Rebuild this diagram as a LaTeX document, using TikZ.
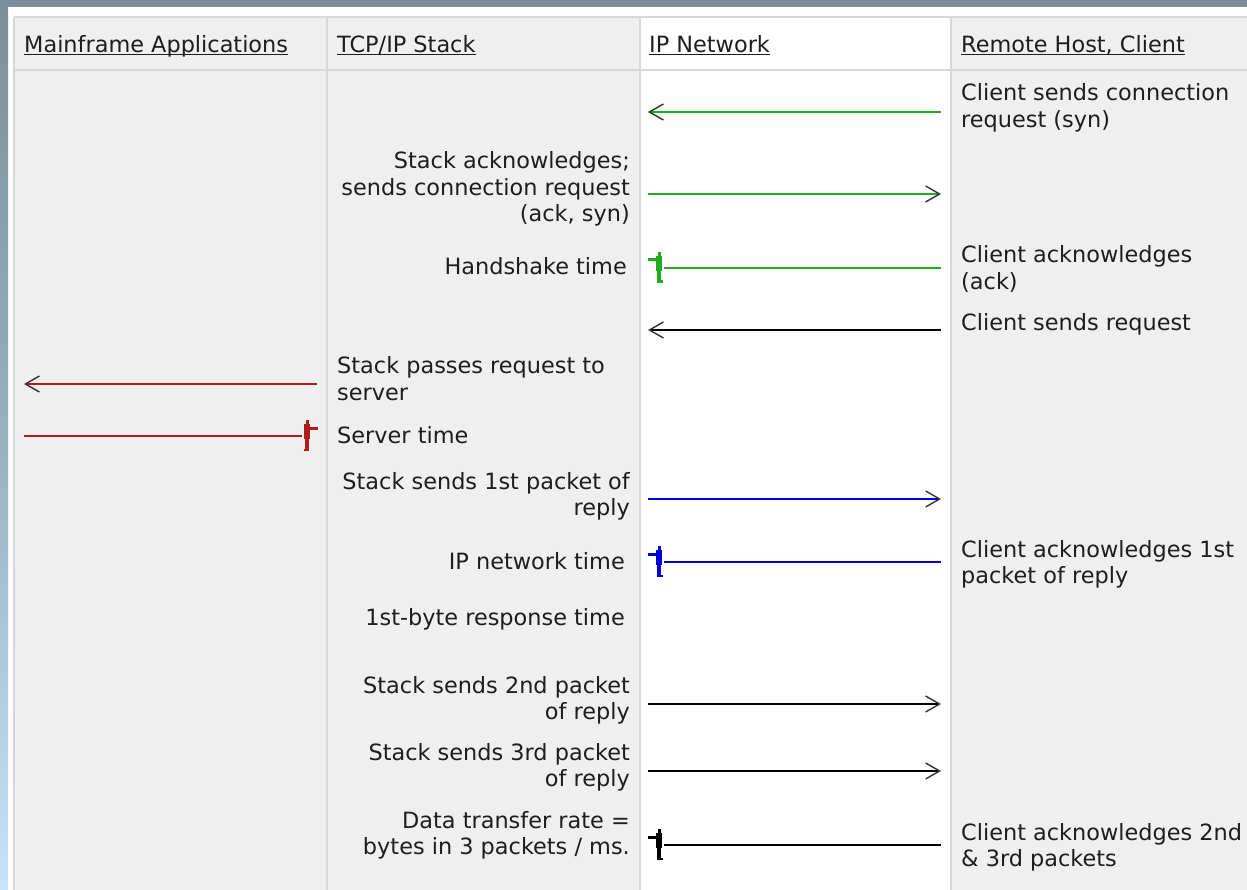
\documentclass[tikz,border=0pt]{standalone}
\usepackage{fontspec}
\setmainfont{DejaVu Sans}
\usetikzlibrary{arrows.meta}
\definecolor{frameGray}{HTML}{7A8F9B}
\definecolor{frameBlue}{HTML}{C6E4F8}
\definecolor{cellBg}{HTML}{EFEFEF}
\definecolor{gridLine}{HTML}{D8D8D8}
\definecolor{synGreen}{HTML}{1FAD1F}
\definecolor{netBlue}{HTML}{0000DD}
\definecolor{srvRed}{HTML}{B01C1C}
\definecolor{txtDark}{HTML}{1E1E1E}
\newcommand{\hdrtext}[1]{\underline{\smash{#1}}}
% time marker: #1 position, #2 colour, #3 horizontal direction
\newcommand{\timemark}[3]{%
  \begin{scope}[shift={(#1)}, xscale=#3]
    \fill[#2] (-1.5,-16) rectangle (1.5,-11.5);
    \fill[#2] (-11,-9.5) rectangle (1,-6.5);
    \fill[#2] (-3,-12) rectangle (3,3);
    \fill[#2] (-2,3) rectangle (2,15);
    \fill[#2] (-2,12.5) rectangle (3.5,15);
  \end{scope}}
\begin{document}
\begin{tikzpicture}[x=1pt,y=-1pt,
  txt/.style={inner sep=0pt, font=\fontsize{22.4}{26.6}\selectfont, text=txtDark},
  lefttxt/.style={txt, anchor=base west, align=left},
  righttxt/.style={txt, anchor=base east, align=right},
  flow/.style={line width=1.6pt, -{Straight Barb[length=14pt,width=16pt,line width=1.4pt,color=black!80]}},
  plainline/.style={line width=1.6pt},
  grid/.style={draw=gridLine, line width=2pt}
]
\useasboundingbox (0,0) rectangle (1247,890);
% frame
\fill[white] (0,0) rectangle (1247,890);
\shade[top color=frameGray, bottom color=frameBlue, middle color=frameGray!60!frameBlue] (0,0) rectangle (8,890);
\fill[frameGray] (0,0) rectangle (1247,7);
% table
\fill[cellBg] (14,17) rectangle (1247,890);
\fill[white] (640,17) rectangle (951,890);
\draw[grid] (14,17) -- (1247,17);
\draw[grid] (14,70) -- (1247,70);
\draw[grid] (14,17) -- (14,890);
\draw[grid] (327,17) -- (327,890);
\draw[grid] (640,17) -- (640,890);
\draw[grid] (951,17) -- (951,890);

% headers
\node[lefttxt] (h1) at (24,53) {\hdrtext{Mainframe Applications}};
\node[lefttxt] (h2) at (337,53) {\hdrtext{TCP/IP Stack}};
\node[lefttxt] (h3) at (649,53) {\hdrtext{IP Network}};
\node[lefttxt] (h4) at (961,53) {\hdrtext{Remote Host, Client}};

% remote host texts (anchor = baseline of last line)
\node[lefttxt] (c1) at (961,127.6) {Client sends connection\\request (syn)};
\node[lefttxt] (c2) at (961,289.6) {Client acknowledges\\(ack)};
\node[lefttxt] (c3) at (961,331) {Client sends request};
\node[lefttxt] (c4) at (961,583.6) {Client acknowledges 1st\\packet of reply};
\node[lefttxt] (c5) at (961,866.6) {Client acknowledges 2nd\\\& 3rd packets};

% stack texts
\node[righttxt] (s1) at (630,222) {Stack acknowledges;\\sends connection request\\(ack, syn)};
\node[righttxt] (s2) at (627,275) {Handshake time};
\node[lefttxt] (s3) at (337,400.6) {Stack passes request to\\server};
\node[lefttxt] (s4) at (337,443) {Server time};
\node[righttxt] (s5) at (630,515.6) {Stack sends 1st packet of\\reply};
\node[righttxt] (s6) at (625,569) {IP network time};
\node[righttxt] (s7) at (625,625) {1st-byte response time};
\node[righttxt] (s8) at (630,719.6) {Stack sends 2nd packet\\of reply};
\node[righttxt] (s9) at (630,786.6) {Stack sends 3rd packet\\of reply};
\node[righttxt] (s10) at (630,854.6) {Data transfer rate =\\bytes in 3 packets / ms.};

% connector end points
\coordinate (synR) at (941,112);  \coordinate (synL) at (648,112);
\coordinate (ackL) at (648,194);  \coordinate (ackR) at (941,194);
\coordinate (hsR) at (941,268);   \coordinate (hsM) at (659,268);
\coordinate (reqR) at (941,330);  \coordinate (reqL) at (648,330);
\coordinate (passR) at (317,384); \coordinate (passL) at (24,384);
\coordinate (srvL) at (24,436);   \coordinate (srvM) at (307,436);
\coordinate (p1L) at (648,499);   \coordinate (p1R) at (941,499);
\coordinate (ipR) at (941,562);   \coordinate (ipM) at (659,562);
\coordinate (p2L) at (648,704);   \coordinate (p2R) at (941,704);
\coordinate (p3L) at (648,771);   \coordinate (p3R) at (941,771);
\coordinate (dtR) at (941,845);   \coordinate (dtM) at (659,845);

% connectors
\draw[flow, synGreen] (synR) -- (synL);
\draw[flow, synGreen] (ackL) -- (ackR);
\draw[plainline, synGreen] (hsR) -- ([xshift=5pt]hsM);
\timemark{hsM}{synGreen}{1}
\draw[flow, black] (reqR) -- (reqL);
\draw[flow, srvRed] (passR) -- (passL);
\draw[plainline, srvRed] (srvL) -- ([xshift=-5pt]srvM);
\timemark{srvM}{srvRed}{-1}
\draw[flow, netBlue] (p1L) -- (p1R);
\draw[plainline, netBlue] (ipR) -- ([xshift=5pt]ipM);
\timemark{ipM}{netBlue}{1}
\draw[flow, black] (p2L) -- (p2R);
\draw[flow, black] (p3L) -- (p3R);
\draw[plainline, black] (dtR) -- ([xshift=5pt]dtM);
\timemark{dtM}{black}{1}
\end{tikzpicture}
\end{document}
